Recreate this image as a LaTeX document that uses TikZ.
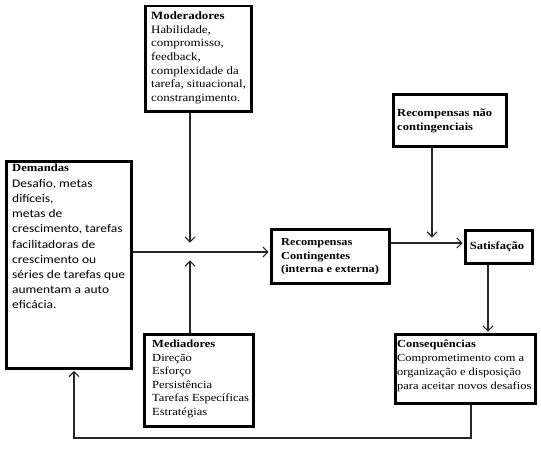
\documentclass[tikz,border=0pt]{standalone}
\usepackage{fontspec}
\setmainfont{Liberation Serif}[FakeStretch=1.15]
\newfontfamily\calfont{Carlito}[FakeStretch=1.15]
\usetikzlibrary{arrows.meta}
\tikzset{
  box/.style={draw, line width=2.5pt, inner sep=0pt, anchor=north west},
  conn/.style={draw=black!85, line width=1.2pt},
  arr/.style={conn, -{Straight Barb[length=5pt,width=10pt,line width=1.2pt]}, shorten >=1.3pt},
  txt/.style={anchor=north west, inner sep=0pt, align=left, font=\fontsize{11}{13.7}\selectfont},
}
\begin{document}
\begin{tikzpicture}[x=1pt,y=-1pt]
\fill[white] (0,0) rectangle (541,452);
\useasboundingbox (0,0) rectangle (541,452);
% boxes
\node[box, minimum width=106pt, minimum height=105pt] (mod) at (144,5) {};
\node[box, minimum width=125pt, minimum height=207pt] (dem) at (5,160) {};
\node[box, minimum width=109pt, minimum height=92pt] (med) at (143,333) {};
\node[box, minimum width=118pt, minimum height=54pt] (rc) at (270,228) {};
\node[box, minimum width=67pt, minimum height=33pt] (sat) at (464,229) {};
\node[box, minimum width=113pt, minimum height=52pt] (rnc) at (392,93) {};
\node[box, minimum width=140pt, minimum height=69pt] (con) at (394,333) {};
% texts
\node[txt, font=\fontsize{11.2}{13.7}\selectfont] (modt) at (151,11.5) {\textbf{Moderadores}\\Habilidade,\\compromisso,\\feedback,\\complexidade da\\tarefa, situacional,\\constrangimento.};
\node[txt] (demh) at (12,164) {\textbf{Demandas}};
\node[txt, font=\calfont\fontsize{11.7}{15.2}\selectfont] (demt) at (12,179) {Desafio, metas\\difíceis,\\metas de\\crescimento, tarefas\\facilitadoras de\\crescimento ou\\séries de tarefas que\\aumentam a auto\\eficácia.};
\node[txt, font=\fontsize{10.9}{13.5}\selectfont] (medt) at (152,340) {\textbf{Mediadores}\\Direção\\Esforço\\Persistência\\Tarefas Específicas\\Estratégias};
\node[txt, font=\bfseries\fontsize{10.7}{13.8}\selectfont] (rct) at (281,238) {Recompensas\\Contingentes\\(interna e externa)};
\node[inner sep=0pt, font=\bfseries\fontsize{10.9}{13}\selectfont] (satt) at (497,247) {Satisfação};
\node[txt, font=\bfseries\fontsize{10.9}{14}\selectfont] (rnct) at (397,108.5) {Recompensas não\\contingenciais};
\node[txt, font=\fontsize{10.8}{14}\selectfont] (cont) at (397,340) {\textbf{Consequências}\\Comprometimento com a\\organização e disposição\\para aceitar novos desafios};
% junction coordinates
\coordinate (jtop) at (190,244);
\coordinate (jbot) at (190,259);
\coordinate (h1) at (130,252);
\coordinate (h2) at (400,243);
\coordinate (k) at (432,239);
\coordinate (m) at (488,300);
\coordinate (lb) at (471,438);
\coordinate (lb2) at (74,438);
% connectors
\draw[arr] (mod.south -| jtop) -- (jtop);
\draw[arr] (med.north -| jbot) -- (jbot);
\draw[arr] (dem.east |- h1) -- (rc.west |- h1);
\draw[arr] (rc.east |- h2) -- (sat.west |- h2);
\draw[arr] (rnc.south -| k) -- (k);
\draw[arr] (sat.south -| m) -- (con.north -| m);
\draw[arr] (con.south -| lb) -- (lb) -- (lb2) -- (dem.south -| lb2);
\end{tikzpicture}
\end{document}
